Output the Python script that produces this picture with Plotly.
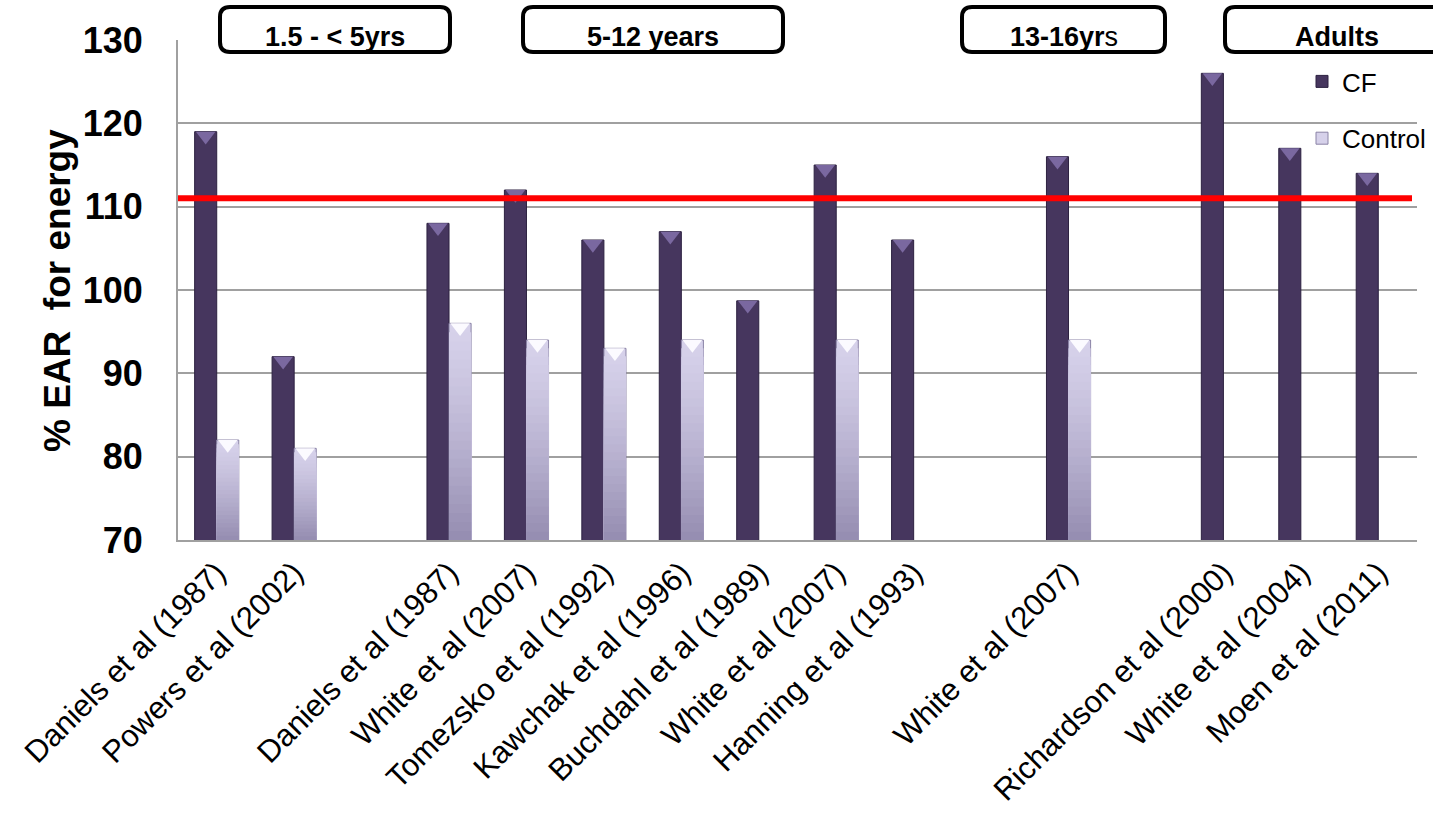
import plotly.graph_objects as go

# Studies on the x axis (empty strings leave a blank slot between age groups)
studies = [
    "Daniels et al (1987)", "Powers et al (2002)", "",
    "Daniels et al (1987)", "White et al (2007)", "Tomezsko et al (1992)",
    "Kawchak et al (1996)", "Buchdahl et al (1989)", "White et al (2007)",
    "Hanning et al (1993)", "",
    "White et al (2007)", "",
    "Richardson et al (2000)", "White et al (2004)", "Moen et al (2011)",
]

# % of the estimated average requirement for energy
cf_values = [119, 92, None, 108, 112, 106, 107, 98.7, 115, 106, None, 116, None, 126, 117, 114]
control_values = [82, 81, None, 96, 94, 93, 94, None, 94, None, None, 94, None, None, None, None]

reference_line = 111
y_ticks = [70, 80, 90, 100, 110, 120, 130]

# Age-group header boxes: (label, left px, right px)
age_groups = [
    ("<b>1.5 - < 5yrs</b>", 220, 450),
    ("<b>5-12 years</b>", 523, 783),
    ("<b>13-16yr</b>s", 962, 1165),
    ("<b>Adults</b>", 1225, 1445),
]

FONT = "Liberation Sans, Arial, sans-serif"
CF_COLOR = "#46365e"
CF_EDGE = "#2c2140"
CF_BEVEL = "#7a68a0"
CTRL_TOP = (214, 209, 234)
CTRL_BOTTOM = (150, 142, 178)
CTRL_EDGE = "#8a83a6"

W, H = 1433, 820
M_L, M_R, M_T, M_B = 178, 16, 40, 280
PLOT_W = W - M_L - M_R
PLOT_H = H - M_T - M_B
Y0, Y1 = 70, 130
BARGAP = 0.43

x_pos = list(range(len(studies)))
fig = go.Figure()

fig.add_trace(go.Bar(
    x=x_pos, y=cf_values, name="CF", offsetgroup="cf",
    marker=dict(color=CF_COLOR, line=dict(color=CF_EDGE, width=1)),
    legendgroup="cf",
))

# Control bars: a stack of overlaid bars gives a light-to-dark vertical shading
steps = 24
for k in range(steps):
    frac = k / steps
    t = (k / (steps - 1)) ** 1.3
    col = tuple(round(CTRL_TOP[c] + (CTRL_BOTTOM[c] - CTRL_TOP[c]) * t) for c in range(3))
    heights = [None if v is None else Y0 + (v - Y0) * (1 - frac) for v in control_values]
    fig.add_trace(go.Bar(
        x=x_pos, y=heights, name="Control", offsetgroup="ctl",
        marker=dict(color="rgb(%d,%d,%d)" % col,
                    line=dict(color=CTRL_EDGE if k == 0 else "rgba(0,0,0,0)", width=1 if k == 0 else 0)),
        legendgroup="ctl", showlegend=(k == 0), hoverinfo="skip" if k else None,
    ))

# Bevel triangles on top of each bar
bar_w = (1 - BARGAP) / 2
units_per_px = (Y1 - Y0) / PLOT_H
tri_size = 17
tri_shift = tri_size / 4 * units_per_px
fig.add_trace(go.Scatter(
    x=[i - bar_w / 2 for i, v in zip(x_pos, cf_values) if v is not None],
    y=[v - tri_shift for v in cf_values if v is not None],
    mode="markers", showlegend=False, hoverinfo="skip",
    marker=dict(symbol="triangle-down", size=tri_size, color=CF_BEVEL, line=dict(width=0)),
))
fig.add_trace(go.Scatter(
    x=[i + bar_w / 2 for i, v in zip(x_pos, control_values) if v is not None],
    y=[v - tri_shift for v in control_values if v is not None],
    mode="markers", showlegend=False, hoverinfo="skip",
    marker=dict(symbol="triangle-down", size=tri_size, color="#fbfaff", line=dict(width=0)),
))

# Reference line
fig.add_shape(type="line", xref="paper", yref="y", x0=0, x1=(1412 - M_L) / PLOT_W,
              y0=reference_line, y1=reference_line, line=dict(color="#ff0000", width=6))


def px_to_paper(px, py):
    return (px - M_L) / PLOT_W, (M_T + PLOT_H - py) / PLOT_H


def rounded_box(x0, y0, x1, y1, r):
    def P(px, py):
        a, b = px_to_paper(px, py)
        return "%.5f,%.5f" % (a, b)
    path = "M " + P(x0 + r, y0)
    path += " L " + P(x1 - r, y0) + " Q " + P(x1, y0) + " " + P(x1, y0 + r)
    path += " L " + P(x1, y1 - r) + " Q " + P(x1, y1) + " " + P(x1 - r, y1)
    path += " L " + P(x0 + r, y1) + " Q " + P(x0, y1) + " " + P(x0, y1 - r)
    path += " L " + P(x0, y0 + r) + " Q " + P(x0, y0) + " " + P(x0 + r, y0) + " Z"
    return path


for label, bx0, bx1 in age_groups:
    fig.add_shape(type="path", xref="paper", yref="paper",
                  path=rounded_box(bx0, 7, bx1, 52, 10),
                  line=dict(color="black", width=4), fillcolor="white", layer="above")
    cx_px = (bx0 + bx1) / 2 if bx1 < W else 1337
    cx, cy = px_to_paper(cx_px, 37)
    fig.add_annotation(xref="paper", yref="paper", x=cx, y=cy, text=label,
                       showarrow=False, xanchor="center", yanchor="middle",
                       font=dict(family=FONT, size=27, color="black"))

# Y axis title
fig.add_annotation(xref="paper", yref="paper", x=px_to_paper(57, 0)[0], y=0.5,
                   text="<b>% EAR  for energy</b>", textangle=-90, showarrow=False,
                   xanchor="center", yanchor="middle",
                   font=dict(family=FONT, size=37, color="black"))

fig.update_layout(
    width=W, height=H,
    margin=dict(l=M_L, r=M_R, t=M_T, b=M_B, autoexpand=False),
    paper_bgcolor="white", plot_bgcolor="white",
    barmode="group", bargap=BARGAP, bargroupgap=0,
    font=dict(family=FONT, color="black"),
    legend=dict(x=px_to_paper(1302, 0)[0], y=px_to_paper(0, 58)[1],
                xanchor="left", yanchor="top", bgcolor="rgba(0,0,0,0)",
                font=dict(family=FONT, size=26, color="black"),
                tracegroupgap=20, itemwidth=30),
    xaxis=dict(
        range=[-0.5, len(studies) - 0.5], tickmode="array", tickvals=x_pos, ticktext=studies,
        tickangle=-45, tickfont=dict(family=FONT, size=31, color="black"),
        showgrid=False, zeroline=False, showline=True, linecolor="#a0a0a0", linewidth=2,
        ticks="",
    ),
    yaxis=dict(
        range=[Y0, Y1], tickmode="array", tickvals=y_ticks,
        tickfont=dict(family=FONT, size=36, color="black", weight="bold"),
        showgrid=True, gridcolor="#a0a0a0", gridwidth=2, zeroline=False,
        showline=True, linecolor="#a0a0a0", linewidth=2, ticks="",
        ticklabelstandoff=26,
    ),
)

fig.write_html("out.html")
